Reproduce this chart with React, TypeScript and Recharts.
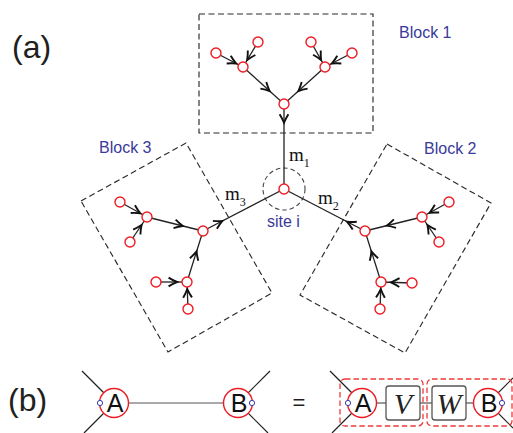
import React from 'react';
import { ScatterChart, Scatter, XAxis, YAxis } from 'recharts';

const WIDTH = 513;
const HEIGHT = 433;

// ---------- Panel (a) data ----------
// node positions [x, y]
const nodes: [number, number][] = [
  [284, 189], // 0 site i
  [284, 104], // 1 block1 root
  [243, 67], // 2
  [325, 67], // 3
  [216, 53], // 4
  [258, 42], // 5
  [311, 42], // 6
  [352, 53], // 7
  [365, 231], // 8 block2 root
  [422, 217], // 9
  [449, 202], // 10
  [439, 242], // 11
  [381, 282], // 12
  [412, 283], // 13
  [380, 309], // 14
  [203, 231], // 15 block3 root
  [147, 217], // 16
  [120, 202], // 17
  [130, 242], // 18
  [187, 282], // 19
  [156, 282], // 20
  [188, 309], // 21
];

// edges [from, to, arrow tip fraction along the edge]
const edges: [number, number, number][] = [
  [1, 0, 0.22], [2, 1, 0.65], [3, 1, 0.65], [4, 2, 0.75], [5, 2, 0.72], [6, 3, 0.72], [7, 3, 0.75],
  [8, 0, 0.22], [9, 8, 0.62], [10, 9, 0.72], [11, 9, 0.68], [12, 8, 0.6], [13, 12, 0.68], [14, 12, 0.74],
  [15, 0, 0.24], [16, 15, 0.64], [17, 16, 0.75], [18, 16, 0.68], [19, 15, 0.6], [20, 19, 0.68], [21, 19, 0.74],
];

const blockBoxes: [number, number][][] = [
  [[199, 14], [373, 14], [373, 133], [199, 133], [199, 14]],
  [[387, 144], [491, 203], [405, 353], [300, 295], [387, 144]],
  [[81, 201], [186, 143], [272, 293], [168, 352], [81, 201]],
];

const siteRing = [{ x: 284, y: 189 }];

const blockLabels = [
  { x: 399, y: 38, text: 'Block 1' },
  { x: 424, y: 154, text: 'Block 2' },
  { x: 99, y: 153, text: 'Block 3' },
  { x: 267, y: 227, text: 'site i' },
];

const bondLabels = [
  { x: 289, y: 161, text: 'm', sub: '1' },
  { x: 318, y: 204, text: 'm', sub: '2' },
  { x: 225, y: 200, text: 'm', sub: '3' },
];

const panelLabels = [
  { x: 12, y: 58, text: '(a)' },
  { x: 8, y: 411, text: '(b)' },
];

// ---------- Panel (b) data ----------
const bLines: { pts: [number, number][]; color: string }[] = [
  { pts: [[114, 403], [238, 403]], color: '#555' },
  { pts: [[82, 371], [114, 403]], color: '#222' },
  { pts: [[114, 403], [84, 433]], color: '#222' },
  { pts: [[238, 403], [270, 371]], color: '#222' },
  { pts: [[238, 403], [268, 433]], color: '#222' },
  { pts: [[362, 403], [488, 403]], color: '#333' },
  { pts: [[330, 371], [362, 403]], color: '#222' },
  { pts: [[362, 403], [332, 433]], color: '#222' },
  { pts: [[488, 403], [513, 378]], color: '#222' },
  { pts: [[488, 403], [513, 428]], color: '#222' },
];

const groupBoxes = [
  { x: 381.5, y: 402.5, w: 83, h: 47 },
  { x: 469.5, y: 402.5, w: 85, h: 47 },
];

const tensorBoxes = [
  { x: 403, y: 403, label: 'V' },
  { x: 449, y: 403, label: 'W' },
];

const bigCircles = [
  { x: 114, y: 403, label: 'A' },
  { x: 238, y: 403, label: 'B' },
  { x: 362, y: 403, label: 'A' },
  { x: 488, y: 403, label: 'B' },
];

const blueDots = [
  { x: 100, y: 403 },
  { x: 252, y: 403 },
  { x: 348, y: 403 },
  { x: 502, y: 403 },
];

const equalsSign = [{ x: 299, y: 410, text: '=' }];

// ---------- derived ----------
const RED = '#ed1c24';
const BLUE = '#3a3a9a';
const SANS = '"Liberation Sans", Arial, Helvetica, sans-serif';
const SERIF = '"Liberation Serif", "Times New Roman", serif';

const nodePts = nodes.map(([x, y]) => ({ x, y }));
const edgeSeries = edges.map(([a, b]) => [
  { x: nodes[a][0], y: nodes[a][1] },
  { x: nodes[b][0], y: nodes[b][1] },
]);
const arrowPts = edges.map(([a, b, t]) => {
  const [x1, y1] = nodes[a];
  const [x2, y2] = nodes[b];
  return {
    x: x1 + (x2 - x1) * t,
    y: y1 + (y2 - y1) * t,
    angle: (Math.atan2(y2 - y1, x2 - x1) * 180) / Math.PI,
  };
});

const Empty = () => <g />;

const NodeShape = (p: any) => (
  <circle cx={p.cx} cy={p.cy} r={5} fill="#fff" stroke={RED} strokeWidth={1.4} />
);

const ArrowShape = (p: any) => (
  <path
    d="M -8.5 -4.4 Q -4 -1.6 0 0 Q -4 1.6 -8.5 4.4"
    transform={`translate(${p.cx},${p.cy}) rotate(${p.payload.angle})`}
    fill="none"
    stroke="#111"
    strokeWidth={1.9}
    strokeLinejoin="miter"
  />
);

const RingShape = (p: any) => (
  <circle cx={p.cx} cy={p.cy} r={21} fill="none" stroke="#444" strokeWidth={1.1} strokeDasharray="4.5 3" />
);

const BlockLabelShape = (p: any) => (
  <text x={p.cx} y={p.cy} fill={BLUE} fontFamily={SANS} fontSize={16}>
    {p.payload.text}
  </text>
);

const BondLabelShape = (p: any) => (
  <text x={p.cx} y={p.cy} fill="#111" fontFamily={SERIF} fontSize={19}>
    {p.payload.text}
    <tspan fontSize={12} dy={6}>
      {p.payload.sub}
    </tspan>
  </text>
);

const PanelLabelShape = (p: any) => (
  <text x={p.cx} y={p.cy} fill="#231f20" fontFamily={SANS} fontSize={32}>
    {p.payload.text}
  </text>
);

const EqualsShape = (p: any) => (
  <text x={p.cx} y={p.cy} fill="#231f20" fontFamily={SANS} fontSize={22} textAnchor="middle">
    {p.payload.text}
  </text>
);

const GroupBoxShape = (p: any) => (
  <rect
    x={p.cx - p.payload.w / 2}
    y={p.cy - p.payload.h / 2}
    width={p.payload.w}
    height={p.payload.h}
    rx={5}
    fill="none"
    stroke="#ee3a3a"
    strokeWidth={1.3}
    strokeDasharray="5.5 3"
  />
);

const TensorBoxShape = (p: any) => (
  <g>
    <rect x={p.cx - 17} y={p.cy - 17} width={34} height={34} rx={3} fill="#fff" stroke="#555" strokeWidth={1.3} />
    <text x={p.cx} y={p.cy + 11} textAnchor="middle" fontFamily={SERIF} fontStyle="italic" fontSize={30} fill="#222">
      {p.payload.label}
    </text>
  </g>
);

const BigCircleShape = (p: any) => (
  <g>
    <circle cx={p.cx} cy={p.cy} r={14.5} fill="#fff" stroke={RED} strokeWidth={1.4} />
    <text x={p.cx + 1} y={p.cy + 9} textAnchor="middle" fontFamily={SANS} fontSize={25} fill="#111">
      {p.payload.label}
    </text>
  </g>
);

const BlueDotShape = (p: any) => (
  <circle cx={p.cx} cy={p.cy} r={2.6} fill="#fff" stroke="#3a3aa8" strokeWidth={1} />
);

export default function App() {
  return (
    <div style={{ position: 'absolute', left: 0, top: 0, background: '#fff' }}>
      <ScatterChart width={WIDTH} height={HEIGHT} margin={{ top: 0, right: 0, bottom: 0, left: 0 }}>
        <XAxis type="number" dataKey="x" domain={[0, WIDTH]} hide allowDataOverflow />
        <YAxis type="number" dataKey="y" domain={[0, HEIGHT]} reversed hide width={0} allowDataOverflow />

        {blockBoxes.map((box, i) => (
          <Scatter
            key={`box${i}`}
            data={box.map(([x, y]) => ({ x, y }))}
            shape={Empty}
            line={{ stroke: '#2a2a2a', strokeWidth: 1.15, strokeDasharray: '6 3.5' }}
            isAnimationActive={false}
          />
        ))}

        <Scatter data={siteRing} shape={RingShape} isAnimationActive={false} />

        {edgeSeries.map((pts, i) => (
          <Scatter
            key={`edge${i}`}
            data={pts}
            shape={Empty}
            line={{ stroke: '#222', strokeWidth: 1.3 }}
            isAnimationActive={false}
          />
        ))}

        <Scatter data={arrowPts} shape={ArrowShape} isAnimationActive={false} />
        <Scatter data={nodePts} shape={NodeShape} isAnimationActive={false} />

        <Scatter data={blockLabels} shape={BlockLabelShape} isAnimationActive={false} />
        <Scatter data={bondLabels} shape={BondLabelShape} isAnimationActive={false} />
        <Scatter data={panelLabels} shape={PanelLabelShape} isAnimationActive={false} />

        {bLines.map((seg, i) => (
          <Scatter
            key={`bl${i}`}
            data={seg.pts.map(([x, y]) => ({ x, y }))}
            shape={Empty}
            line={{ stroke: seg.color, strokeWidth: 1.2 }}
            isAnimationActive={false}
          />
        ))}

        <Scatter data={tensorBoxes} shape={TensorBoxShape} isAnimationActive={false} />
        <Scatter data={bigCircles} shape={BigCircleShape} isAnimationActive={false} />
        <Scatter data={blueDots} shape={BlueDotShape} isAnimationActive={false} />
        <Scatter data={groupBoxes} shape={GroupBoxShape} isAnimationActive={false} />
        <Scatter data={equalsSign} shape={EqualsShape} isAnimationActive={false} />
      </ScatterChart>
    </div>
  );
}
